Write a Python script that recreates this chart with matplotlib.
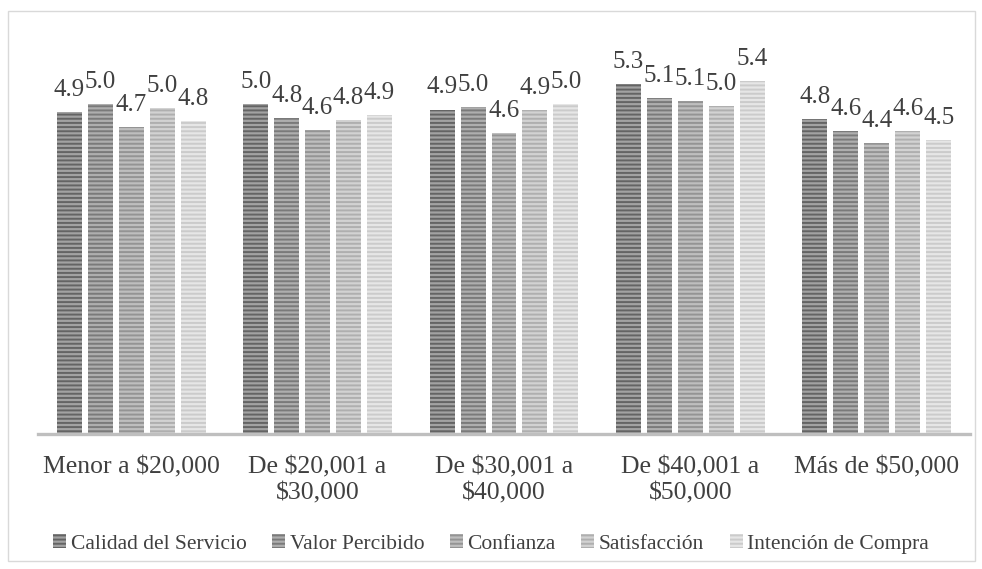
import numpy as np
import matplotlib
matplotlib.use("Agg")
import matplotlib.pyplot as plt
from matplotlib.patches import Rectangle

plt.rcParams['font.family'] = ['Liberation Serif', 'DejaVu Serif']
plt.rcParams['hatch.linewidth'] = 1.4

# Ingreso mensual (categorías) y promedio por constructo
categorias = ["Menor a \\$20,000", "De \\$20,001 a\n\\$30,000", "De \\$30,001 a\n\\$40,000",
              "De \\$40,001 a\n\\$50,000", "Más de \\$50,000"]
series = ["Calidad del Servicio", "Valor Percibido", "Confianza", "Satisfacción",
          "Intención de Compra"]
calidad = [4.90, 5.03, 4.94, 5.33, 4.80]
valor = [5.03, 4.81, 4.98, 5.12, 4.62]
confianza = [4.68, 4.63, 4.58, 5.07, 4.43]
satisfaccion = [4.96, 4.78, 4.93, 5.00, 4.62]
intencion = [4.76, 4.86, 5.03, 5.38, 4.48]

valores = [calidad, valor, confianza, satisfaccion, intencion]
fondo = ['#a2a2a2', '#aeaeae', '#bebebe', '#d2d2d2', '#e6e6e6']
rayas = ['#646464', '#7a7a7a', '#949494', '#afafaf', '#cbcbcb']
texto = '#404040'

fig = plt.figure(figsize=(9.82, 5.69), dpi=100)
ax = fig.add_axes([38 / 982, (569 - 434) / 569, 932 / 982, 394 / 569])

x = np.arange(len(categorias))
ancho = 0.134
paso = 0.166
for i, (vals, fc, hc) in enumerate(zip(valores, fondo, rayas)):
    pos = x + (i - 2) * paso
    barras = ax.bar(pos, vals, ancho, color=fc, edgecolor=hc, linewidth=0,
                    hatch='----', label=series[i], zorder=2)
    for b, v in zip(barras, vals):
        ax.annotate(f"{v:.1f}", (b.get_x() + b.get_width() / 2, v),
                    xytext=(0, 8), textcoords='offset points',
                    ha='center', va='bottom', fontsize=18, color=texto)

ax.set_xlim(-0.5, len(categorias) - 0.5)
ax.set_ylim(0, 6)
ax.axhline(0, color='#bfbfbf', lw=2.4, zorder=3, clip_on=False)
for s in ax.spines.values():
    s.set_visible(False)
ax.set_yticks([])
ax.set_xticks(x)
ax.set_xticklabels(categorias, fontsize=18.5, color=texto, linespacing=1.25)
ax.tick_params(axis='x', length=0, pad=16)

leg = fig.legend(loc='center', bbox_to_anchor=(0.5, (569 - 544) / 569), ncol=5,
                 frameon=False, fontsize=15.5, handlelength=0.6, handleheight=0.6,
                 handletextpad=0.2, columnspacing=1.2)
for t in leg.get_texts():
    t.set_color(texto)

# marco exterior del gráfico
fig.patches.append(Rectangle((8 / 982, 1 - 561 / 569), 967 / 982, 550 / 569,
                             transform=fig.transFigure, fill=False,
                             edgecolor='#d9d9d9', lw=1))

fig.savefig("out.png", dpi=100)
